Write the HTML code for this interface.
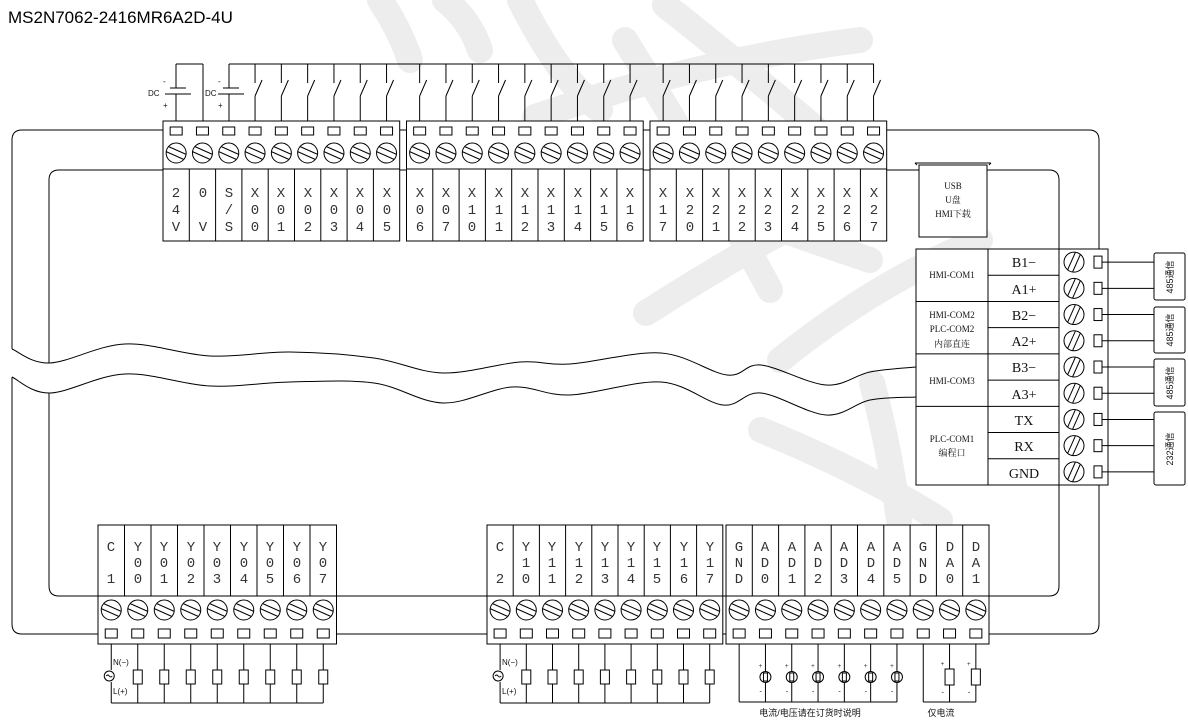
<!DOCTYPE html>
<html><head><meta charset="utf-8">
<style>
html,body{margin:0;padding:0;background:#fff;}
svg{display:block;}
.t{font-family:"Liberation Mono","DejaVu Sans Mono",monospace;font-size:14px;fill:#333;text-anchor:middle;}
.s{font-family:"Liberation Serif","Noto Serif CJK SC",serif;font-size:9px;fill:#111;text-anchor:middle;}
.m{font-family:"Liberation Serif","Noto Serif CJK SC",serif;font-size:14px;fill:#111;text-anchor:middle;}
.c{font-family:"Liberation Sans","Noto Sans CJK SC",sans-serif;font-size:9px;fill:#111;text-anchor:middle;}
</style></head>
<body>
<svg id="sv" width="1188" height="726" viewBox="0 0 1188 726" xmlns="http://www.w3.org/2000/svg">
<g stroke="#e6e6e6" stroke-width="26" fill="none" stroke-linecap="round" opacity="0.7">
<path d="M380 0 Q400 30 410 60"/>
<path d="M445 0 Q470 20 480 50"/>
<path d="M520 0 Q560 80 600 110"/>
<path d="M665 5 Q760 80 840 150"/>
<path d="M535 117 Q700 60 860 40"/>
<path d="M625 40 Q700 160 770 290"/>
<path d="M646 313 Q760 240 870 185"/>
<path d="M700 200 Q780 230 870 260"/>
<path d="M780 360 Q880 280 980 240"/>
<path d="M761 430 Q860 470 940 520"/>
<path d="M872 383 Q890 450 899 520"/>
</g>
<g id="g" stroke="#000" stroke-width="1" fill="none"></g>
<text x="8" y="23" style="font-family:'Liberation Sans',sans-serif;font-size:17px;fill:#000">MS2N7062-2416MR6A2D-4U</text>

<g class="t">
<text x="176" y="197">2<tspan x="176" dy="17">4</tspan><tspan x="176" dy="17">V</tspan></text>
<text x="203" y="197">0<tspan x="203" dy="34">V</tspan></text>
<text x="229" y="197">S<tspan x="229" dy="17">/</tspan><tspan x="229" dy="17">S</tspan></text>
<text x="255" y="197">X<tspan x="255" dy="17">0</tspan><tspan x="255" dy="17">0</tspan></text>
<text x="281" y="197">X<tspan x="281" dy="17">0</tspan><tspan x="281" dy="17">1</tspan></text>
<text x="308" y="197">X<tspan x="308" dy="17">0</tspan><tspan x="308" dy="17">2</tspan></text>
<text x="334" y="197">X<tspan x="334" dy="17">0</tspan><tspan x="334" dy="17">3</tspan></text>
<text x="360" y="197">X<tspan x="360" dy="17">0</tspan><tspan x="360" dy="17">4</tspan></text>
<text x="387" y="197">X<tspan x="387" dy="17">0</tspan><tspan x="387" dy="17">5</tspan></text>
<text x="420" y="197">X<tspan x="420" dy="17">0</tspan><tspan x="420" dy="17">6</tspan></text>
<text x="446" y="197">X<tspan x="446" dy="17">0</tspan><tspan x="446" dy="17">7</tspan></text>
<text x="472" y="197">X<tspan x="472" dy="17">1</tspan><tspan x="472" dy="17">0</tspan></text>
<text x="499" y="197">X<tspan x="499" dy="17">1</tspan><tspan x="499" dy="17">1</tspan></text>
<text x="525" y="197">X<tspan x="525" dy="17">1</tspan><tspan x="525" dy="17">2</tspan></text>
<text x="551" y="197">X<tspan x="551" dy="17">1</tspan><tspan x="551" dy="17">3</tspan></text>
<text x="578" y="197">X<tspan x="578" dy="17">1</tspan><tspan x="578" dy="17">4</tspan></text>
<text x="604" y="197">X<tspan x="604" dy="17">1</tspan><tspan x="604" dy="17">5</tspan></text>
<text x="630" y="197">X<tspan x="630" dy="17">1</tspan><tspan x="630" dy="17">6</tspan></text>
<text x="663" y="197">X<tspan x="663" dy="17">1</tspan><tspan x="663" dy="17">7</tspan></text>
<text x="690" y="197">X<tspan x="690" dy="17">2</tspan><tspan x="690" dy="17">0</tspan></text>
<text x="716" y="197">X<tspan x="716" dy="17">2</tspan><tspan x="716" dy="17">1</tspan></text>
<text x="742" y="197">X<tspan x="742" dy="17">2</tspan><tspan x="742" dy="17">2</tspan></text>
<text x="768" y="197">X<tspan x="768" dy="17">2</tspan><tspan x="768" dy="17">3</tspan></text>
<text x="795" y="197">X<tspan x="795" dy="17">2</tspan><tspan x="795" dy="17">4</tspan></text>
<text x="821" y="197">X<tspan x="821" dy="17">2</tspan><tspan x="821" dy="17">5</tspan></text>
<text x="847" y="197">X<tspan x="847" dy="17">2</tspan><tspan x="847" dy="17">6</tspan></text>
<text x="874" y="197">X<tspan x="874" dy="17">2</tspan><tspan x="874" dy="17">7</tspan></text>
</g>
<g class="t">
<text x="111" y="551">C<tspan x="111" dy="32">1</tspan></text>
<text x="138" y="551">Y<tspan x="138" dy="16">0</tspan><tspan x="138" dy="16">0</tspan></text>
<text x="164" y="551">Y<tspan x="164" dy="16">0</tspan><tspan x="164" dy="16">1</tspan></text>
<text x="191" y="551">Y<tspan x="191" dy="16">0</tspan><tspan x="191" dy="16">2</tspan></text>
<text x="217" y="551">Y<tspan x="217" dy="16">0</tspan><tspan x="217" dy="16">3</tspan></text>
<text x="244" y="551">Y<tspan x="244" dy="16">0</tspan><tspan x="244" dy="16">4</tspan></text>
<text x="270" y="551">Y<tspan x="270" dy="16">0</tspan><tspan x="270" dy="16">5</tspan></text>
<text x="297" y="551">Y<tspan x="297" dy="16">0</tspan><tspan x="297" dy="16">6</tspan></text>
<text x="323" y="551">Y<tspan x="323" dy="16">0</tspan><tspan x="323" dy="16">7</tspan></text>
<text x="500" y="551">C<tspan x="500" dy="32">2</tspan></text>
<text x="526" y="551">Y<tspan x="526" dy="16">1</tspan><tspan x="526" dy="16">0</tspan></text>
<text x="552" y="551">Y<tspan x="552" dy="16">1</tspan><tspan x="552" dy="16">1</tspan></text>
<text x="579" y="551">Y<tspan x="579" dy="16">1</tspan><tspan x="579" dy="16">2</tspan></text>
<text x="605" y="551">Y<tspan x="605" dy="16">1</tspan><tspan x="605" dy="16">3</tspan></text>
<text x="631" y="551">Y<tspan x="631" dy="16">1</tspan><tspan x="631" dy="16">4</tspan></text>
<text x="657" y="551">Y<tspan x="657" dy="16">1</tspan><tspan x="657" dy="16">5</tspan></text>
<text x="684" y="551">Y<tspan x="684" dy="16">1</tspan><tspan x="684" dy="16">6</tspan></text>
<text x="710" y="551">Y<tspan x="710" dy="16">1</tspan><tspan x="710" dy="16">7</tspan></text>
<text x="739" y="551">G<tspan x="739" dy="16">N</tspan><tspan x="739" dy="16">D</tspan></text>
<text x="765" y="551">A<tspan x="765" dy="16">D</tspan><tspan x="765" dy="16">0</tspan></text>
<text x="792" y="551">A<tspan x="792" dy="16">D</tspan><tspan x="792" dy="16">1</tspan></text>
<text x="818" y="551">A<tspan x="818" dy="16">D</tspan><tspan x="818" dy="16">2</tspan></text>
<text x="844" y="551">A<tspan x="844" dy="16">D</tspan><tspan x="844" dy="16">3</tspan></text>
<text x="871" y="551">A<tspan x="871" dy="16">D</tspan><tspan x="871" dy="16">4</tspan></text>
<text x="897" y="551">A<tspan x="897" dy="16">D</tspan><tspan x="897" dy="16">5</tspan></text>
<text x="923" y="551">G<tspan x="923" dy="16">N</tspan><tspan x="923" dy="16">D</tspan></text>
<text x="950" y="551">D<tspan x="950" dy="16">A</tspan><tspan x="950" dy="16">0</tspan></text>
<text x="976" y="551">D<tspan x="976" dy="16">A</tspan><tspan x="976" dy="16">1</tspan></text>
</g>
<g class="m">
<text x="1024" y="267">B1−</text><text x="1024" y="294">A1+</text>
<text x="1024" y="320">B2−</text><text x="1024" y="346">A2+</text>
<text x="1024" y="372">B3−</text><text x="1024" y="399">A3+</text>
<text x="1024" y="425">TX</text><text x="1024" y="451">RX</text>
<text x="1024" y="478">GND</text>
</g>
<g class="s">
<text x="952" y="278">HMI-COM1</text>
<text x="952" y="318">HMI-COM2</text>
<text x="952" y="332">PLC-COM2</text>
<text x="952" y="347">内部直连</text>
<text x="952" y="384">HMI-COM3</text>
<text x="952" y="442">PLC-COM1</text>
<text x="952" y="456">编程口</text>
<text x="953" y="189">USB</text>
<text x="953" y="203">U盘</text>
<text x="953" y="217">HMI下载</text>
</g>
<g class="c">
<text transform="translate(1173,277) rotate(-90)">485通信</text>
<text transform="translate(1173,330) rotate(-90)">485通信</text>
<text transform="translate(1173,383) rotate(-90)">485通信</text>
<text transform="translate(1173,449) rotate(-90)">232通信</text>
<text x="810" y="716">电流/电压请在订货时说明</text>
<text x="941" y="716">仅电流</text>
</g>
<g style="font-family:'Liberation Sans',sans-serif;font-size:8px;fill:#111">
<text x="148" y="96">DC</text><text x="205" y="96">DC</text>
<text x="163" y="84">-</text><text x="163" y="108">+</text>
<text x="218" y="84">-</text><text x="218" y="108">+</text>
<text x="113" y="665">N(−)</text><text x="113" y="694">L(+)</text>
<text x="502" y="665">N(−)</text><text x="502" y="694">L(+)</text>
</g>
</svg>
<script>
var g=document.getElementById('g');var NS='http://www.w3.org/2000/svg';
function el(n,a){var e=document.createElementNS(NS,n);for(var k in a)e.setAttribute(k,a[k]);g.appendChild(e);return e;}
function L(a,b,c,d){el('line',{x1:a,y1:b,x2:c,y2:d});}
function R(x,y,w,h,f){el('rect',{x:x,y:y,width:w,height:h,fill:f||'none'});}
function screw(x,y,dir){el('circle',{cx:x,cy:y,r:10,fill:'#fff'});
 for(var o of [-2.5,2.5]){ if(dir>0){L(x-9+o*0.5,y-4-o,x+9+o*0.5,y+4-o);} else {L(x-4+o,y+9+o*0.4,x+4+o,y-9+o*0.4);} }}
el('path',{d:'M12 349 V140 Q12 130 22 130 H1089 Q1099 130 1099 140 V624 Q1099 634 1089 634 H22 Q12 634 12 624 V377'});
el('path',{d:'M49 363 V180 Q49 170 59 170 H1049 Q1059 170 1059 180 V586 Q1059 596 1049 596 H59 Q49 596 49 586 V393'});
function wave(p){var d='M'+p[0][0]+' '+p[0][1];for(var i=0;i<p.length-1;i++){var p0=p[Math.max(0,i-1)],p1=p[i],p2=p[i+1],p3=p[Math.min(p.length-1,i+2)];
 d+=' C'+(p1[0]+(p2[0]-p0[0])/6)+' '+(p1[1]+(p2[1]-p0[1])/6)+' '+(p2[0]-(p3[0]-p1[0])/6)+' '+(p2[1]-(p3[1]-p1[1])/6)+' '+p2[0]+' '+p2[1];}
 el('path',{d:d});}
wave([[12,349],[50,363],[125,344],[210,356],[290,352],[374,358],[443,373],[520,362],[570,364],[661,353],[727,375],[761,365],[826,385],[870,372],[916,367]]);
wave([[12,377],[50,393],[125,374],[210,386],[290,382],[374,383],[443,403],[512,387],[570,395],[661,382],[723,405],[761,393],[826,415],[870,400],[916,397]]);
var W=26.3;
[[163,9],[406.5,9],[650,9]].forEach(function(b){R(b[0],121,b[1]*W,120,'#fff');L(b[0],169,b[0]+b[1]*W,169);
 for(var i=0;i<b[1];i++){var cx=b[0]+W*(i+0.5);R(cx-6,127,12,8);screw(cx,153,1);if(i>0)L(b[0]+W*i,169,b[0]+W*i,241);}});
L(176,64,176,88);L(176,94,176,121);L(176,64,203,64);L(203,64,203,121);
L(170,88,186,88);L(165,94,191,94);
L(229,64,229,88);L(229,94,229,121);L(223,88,239,88);L(218,94,244,94);
L(229,64,874,64);
var xs=[];for(var i=3;i<9;i++)xs.push(163+W*(i+0.5));for(var i=0;i<9;i++)xs.push(406.5+W*(i+0.5));for(var i=0;i<9;i++)xs.push(650+W*(i+0.5));
xs.forEach(function(x){L(x,64,x,83);L(x,96,x+7,80);L(x,96,x,121);});
R(919,165,68,72,'#fff');L(915,163,991,163);L(915,163,917,165);L(991,163,989,165);
R(916,249,192,236,'#fff');L(988,249,988,485);L(1059,249,1059,485);
var rh=236/9;for(var i=1;i<9;i++){L(988,249+rh*i,1059,249+rh*i);}
[2,4,6].forEach(function(i){L(916,249+rh*i,988,249+rh*i);});
for(var i=0;i<9;i++){var cy=249+rh*(i+0.5);screw(1074,cy,-1);R(1094,cy-6,8,12);L(1102,cy,1154,cy);}
[[253,300],[307,353],[359,406],[412,485]].forEach(function(b){el('rect',{x:1154,y:b[0],width:31,height:b[1]-b[0],rx:2,fill:'#fff'});});
[[98,9,26.5],[487,9,26.2],[726,10,26.3]].forEach(function(b){var w=b[2];R(b[0],525,b[1]*w,119,'#fff');L(b[0],596,b[0]+b[1]*w,596);
 for(var i=0;i<b[1];i++){var cx=b[0]+w*(i+0.5);R(cx-6,629,12,9);screw(cx,610,1);if(i>0)L(b[0]+w*i,525,b[0]+w*i,596);}});
function ywire(b0,w){var c0=b0+w*0.5;L(c0,644,c0,670);L(c0,682,c0,703);
 el('circle',{cx:c0-2,cy:676,r:5,fill:'#fff'});el('path',{d:'M'+(c0-5)+' 676 q1.5 -2 3 0 t3 0'});
 L(c0,703,b0+w*8.5,703);
 for(var i=1;i<9;i++){var x=b0+w*(i+0.5);L(x,644,x,703);R(x-4.5,670,9,14,'#fff');}}
ywire(98,26.5);ywire(487,26.2);
var w=26.3,b=726;var g0=b+w*0.5;L(g0,644,g0,702);L(g0,702,b+w*6.5,702);
for(var i=1;i<7;i++){var x=b+w*(i+0.5);L(x,644,x,702);el('circle',{cx:x,cy:677,r:5.5,fill:'#fff'});R(x-2,673,4,8);
 el('text',{x:x-7,y:668,'font-size':'7',fill:'#000',stroke:'none'}).textContent='+';
 el('text',{x:x-6,y:693,'font-size':'7',fill:'#000',stroke:'none'}).textContent='-';}
var g2=b+w*7.5;L(g2,644,g2,702);L(g2,702,b+w*9.5,702);
for(var i=8;i<10;i++){var x=b+w*(i+0.5);L(x,644,x,702);R(x-4.5,669,9,16,'#fff');
 el('text',{x:x-9,y:666,'font-size':'7',fill:'#000',stroke:'none'}).textContent='+';
 el('text',{x:x-8,y:694,'font-size':'7',fill:'#000',stroke:'none'}).textContent='-';}
</script>
</body></html>
